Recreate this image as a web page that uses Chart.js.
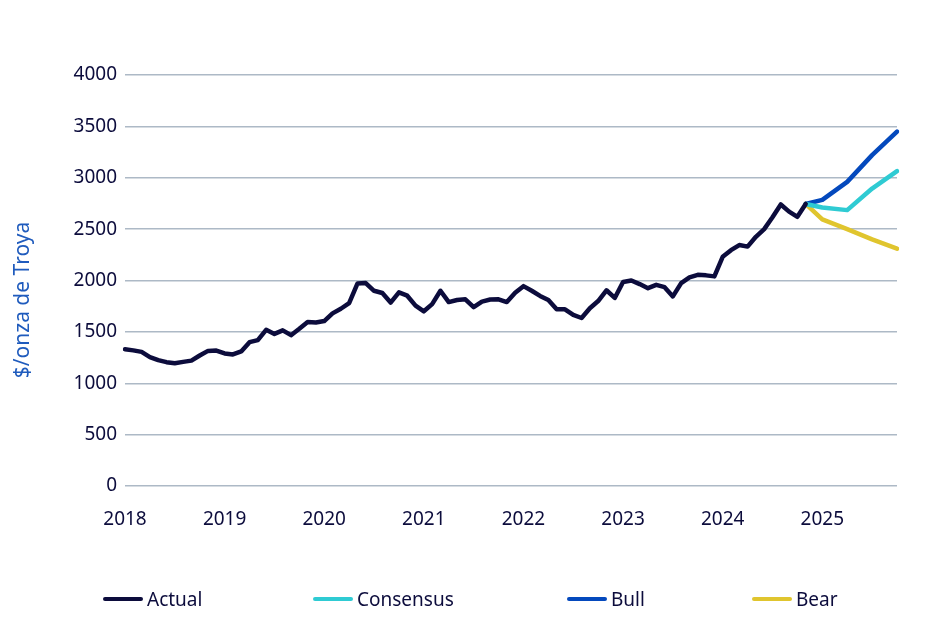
<!DOCTYPE html>
<html>
<head>
<meta charset="utf-8">
<script src="https://cdn.jsdelivr.net/npm/chart.js"></script>
<style>
  body { margin: 0; background: #fff; }
  #wrap { position: relative; width: 940px; height: 625px; }
  #legend { position: absolute; left: 0; top: 585px; width: 940px; height: 28px;
            font-family: "Noto Sans", sans-serif; font-size: 19px; color: #0c0c3c; }
  .item { position: absolute; top: 0; display: flex; align-items: center; height: 28px; }
  .swatch { width: 40px; height: 4px; border-radius: 2px; margin-right: 4px; }
</style>
</head>
<body>
<div id="wrap">
  <canvas id="grafico" width="940" height="625"></canvas>
  <div id="legend"></div>
</div>
<script>
// meses de ene-2018 a oct-2025
var meses = [];
for (var a = 2018; a <= 2025; a++) {
  for (var m = 1; m <= 12; m++) {
    if (a == 2025 && m > 10) break;
    meses.push(a + '-' + (m < 10 ? '0' + m : m));
  }
}

// precio real, mensual desde ene-2018 hasta nov-2024
var actual = [
  1330, 1320, 1305, 1255, 1225, 1205, 1195, 1208, 1220, 1270, 1315, 1318,
  1290, 1280, 1310, 1400, 1420, 1520, 1480, 1515, 1468, 1530, 1595, 1592,
  1605, 1680, 1725, 1780, 1970, 1975, 1900, 1878, 1785, 1885, 1852, 1755,
  1700, 1770, 1900, 1790, 1810, 1817, 1740, 1795, 1815, 1817, 1790, 1880,
  1945, 1900, 1850, 1810, 1720, 1720, 1665, 1635, 1730, 1800, 1905, 1830,
  1985, 2000, 1965, 1925, 1958, 1935, 1845, 1975, 2030, 2055, 2050, 2040,
  2230, 2295, 2345, 2330, 2425, 2500, 2615, 2740, 2670, 2620, 2745
];

// escenarios (trimestrales)
var mesesPronostico = ['2024-11', '2025-01', '2025-04', '2025-07', '2025-10'];
var consenso = [2745, 2710, 2685, 2895, 3065];
var alcista  = [2745, 2785, 2960, 3220, 3450];
var bajista  = [2745, 2595, 2500, 2400, 2310];

var colores = { actual: '#0c0c3c', consenso: '#2fcbd3', alcista: '#0449bd', bajista: '#e0c52e' };

function puntos(vals) {
  return vals.map(function (v, i) { return { x: mesesPronostico[i], y: v }; });
}

var series = [
  { label: 'Actual', data: actual, color: colores.actual },
  { label: 'Consensus', data: puntos(consenso), color: colores.consenso },
  { label: 'Bull', data: puntos(alcista), color: colores.alcista },
  { label: 'Bear', data: puntos(bajista), color: colores.bajista }
];

// leyenda (posiciones como en el original)
var posLeyenda = [103, 313, 567, 752];
var leg = document.getElementById('legend');
series.forEach(function (s, i) {
  leg.innerHTML += '<div class="item" style="left:' + posLeyenda[i] + 'px"><div class="swatch" style="background:' +
    s.color + '"></div>' + s.label + '</div>';
});

// titulo del eje y, dibujado a mano
var tituloY = {
  id: 'tituloY',
  afterDraw: function (chart) {
    var c = chart.ctx;
    c.save();
    c.translate(23, 300);
    c.rotate(-Math.PI / 2);
    c.font = '21px "Noto Sans"';
    c.fillStyle = '#1f5bbd';
    c.textAlign = 'center';
    c.textBaseline = 'middle';
    c.fillText('$/onza de Troya', 0, 0);
    c.restore();
  }
};

var ctx = document.getElementById('grafico').getContext('2d');
var grafico = new Chart(ctx, {
  type: 'line',
  data: {
    labels: meses,
    datasets: series.map(function (s) {
      return {
        label: s.label,
        data: s.data,
        borderColor: s.color,
        backgroundColor: s.color,
        borderWidth: 4.5,
        pointRadius: 0,
        tension: 0,
        fill: false,
        borderCapStyle: 'round',
        borderJoinStyle: 'round'
      };
    })
  },
  options: {
    responsive: false,
    animation: false,
    layout: { padding: { top: 75, right: 43, bottom: 89, left: 0 } },
    plugins: { legend: { display: false }, tooltip: { enabled: false } },
    scales: {
      x: {
        offset: false,
        grid: { display: false, drawTicks: false },
        border: { display: false },
        ticks: {
          autoSkip: false,
          maxRotation: 0,
          padding: 22,
          color: '#0c0c3c',
          font: { family: 'Noto Sans', size: 19 },
          callback: function (v, i) {
            var l = meses[i];
            return l.slice(5) == '01' ? l.slice(0, 4) : '';
          }
        },
        afterFit: function (s) { s.height = 50; }
      },
      y: {
        min: 0,
        max: 4000,
        ticks: {
          stepSize: 500, padding: 8, color: '#0c0c3c', font: { family: 'Noto Sans', size: 19 },
          callback: function (v) { return String(v); }
        },
        grid: { color: '#adb9c6', lineWidth: 1.5, drawTicks: false },
        border: { display: false },
        afterFit: function (s) { s.width = 125; }
      }
    }
  },
  plugins: [tituloY]
});
</script>
</body>
</html>
